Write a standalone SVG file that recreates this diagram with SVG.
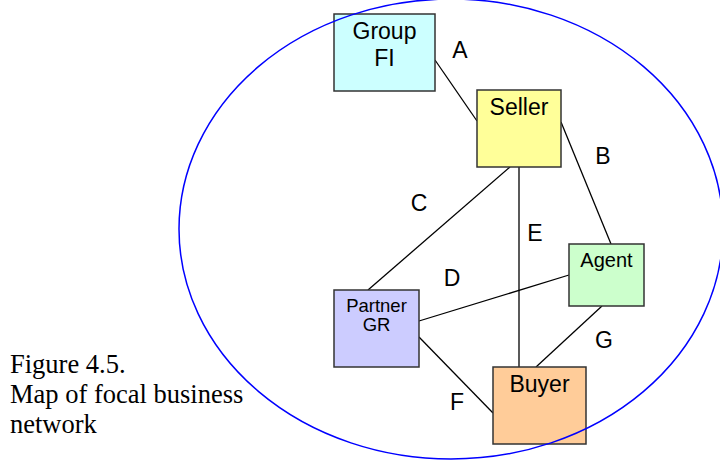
<svg xmlns="http://www.w3.org/2000/svg" width="720" height="460" viewBox="0 0 720 460">
<style>
.box{stroke:#333333;stroke-width:1.5}
.lbl{font-family:"Liberation Sans",Arial,sans-serif;font-size:23px;fill:#000;text-anchor:middle}
.nt{font-family:"Liberation Sans",Arial,sans-serif;fill:#000;text-anchor:middle}
.con line{stroke:#000;stroke-width:1.3}
.cap{font-family:"Liberation Serif","Times New Roman",serif;font-size:26.5px;fill:#000}
</style>
<rect width="720" height="460" fill="#fff"/>
<g id="connectors" class="con">
<line x1="435" y1="60" x2="477" y2="121"/>
<line x1="561" y1="122" x2="611" y2="244"/>
<line x1="510" y1="167" x2="368" y2="290"/>
<line x1="519" y1="167" x2="519" y2="367"/>
<line x1="569" y1="275" x2="419" y2="321"/>
<line x1="602" y1="306" x2="536" y2="367"/>
<line x1="419" y1="337" x2="493" y2="413"/>
</g>
<g id="edge-labels">
<text class="lbl" x="460" y="58">A</text>
<text class="lbl" x="603" y="164">B</text>
<text class="lbl" x="419" y="211">C</text>
<text class="lbl" x="452" y="286">D</text>
<text class="lbl" x="535" y="241">E</text>
<text class="lbl" x="457" y="410">F</text>
<text class="lbl" x="604" y="348">G</text>
</g>
<g id="groupfi">
<rect class="box" x="334" y="14" width="101" height="77" fill="#CCFFFF"/>
<text class="nt" x="384.5" y="39" font-size="23">Group</text>
<text class="nt" x="384.5" y="66" font-size="23">FI</text>
</g>
<g id="seller">
<rect class="box" x="477" y="90" width="84" height="77" fill="#FFFF99"/>
<text class="nt" x="519" y="115" font-size="23">Seller</text>
</g>
<g id="agent">
<rect class="box" x="569" y="244" width="75" height="62" fill="#CCFFCC"/>
<text class="nt" x="606.5" y="267" font-size="20">Agent</text>
</g>
<g id="partnergr">
<rect class="box" x="334" y="290" width="85" height="77" fill="#CCCCFF"/>
<text class="nt" x="376.5" y="312" font-size="18.5">Partner</text>
<text class="nt" x="376.5" y="331" font-size="18.5">GR</text>
</g>
<g id="buyer">
<rect class="box" x="493" y="367" width="93" height="77" fill="#FFCC99"/>
<text class="nt" x="539.5" y="392" font-size="23">Buyer</text>
</g>
<ellipse id="network-boundary" cx="451" cy="229" rx="272" ry="230" fill="none" stroke="#0000FF" stroke-width="1.5"/>
<g id="caption">
<text class="cap" x="10" y="373">Figure 4.5.</text>
<text class="cap" x="10" y="403">Map of focal business</text>
<text class="cap" x="10" y="433">network</text>
</g>
</svg>
